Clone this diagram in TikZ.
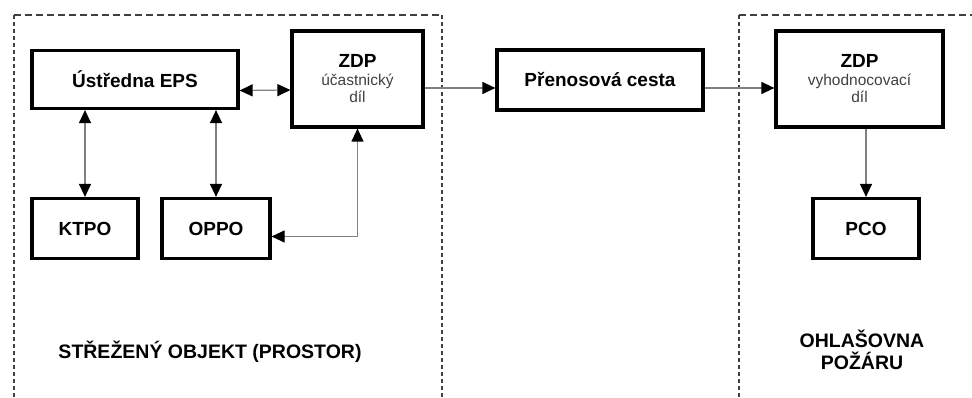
\documentclass[tikz,border=0pt]{standalone}
\usepackage{fontspec}
\setmainfont{Liberation Sans}
\usetikzlibrary{arrows.meta}
\newcommand\epssub{\mdseries\fontsize{15.5}{18}\selectfont\color{black!75}}

\begin{document}
\begin{tikzpicture}[x=1pt, y=-1pt,
  epsbox/.style = {draw=black, line width=3.2pt, inner sep=0pt, align=center,
    font=\bfseries\fontsize{19}{21}\selectfont},
  epsline/.style = {draw=black!50, line width=1.2pt},
  epstip/.tip = {Triangle[length=13pt, width=12pt, black]},
  epsarr/.style = {epsline, -epstip},
  epsdarr/.style = {epsline, epstip-epstip},
  epszone/.style = {draw=black!75, line width=2pt, dash pattern=on 7pt off 4pt},
  epszonev/.style = {draw=black!75, line width=2pt, dash pattern=on 4pt off 3pt},
  epslbl/.style = {font=\bfseries\fontsize{19.5}{22}\selectfont, align=center}
]
  \useasboundingbox (0,0) rectangle (972,398);
  % hranice prostoru
  \draw[epszone] (14,15) -- (442,15);
  \draw[epszonev] (14,15) -- (14,398);
  \draw[epszonev] (442,15) -- (442,398);
  \draw[epszone] (739,15) -- (972,15);
  \draw[epszonev] (739,15) -- (739,398);
  % bloky
  \node[epsbox, minimum width=206pt, minimum height=58pt] (ustredna) at (135,79.5) {Ústředna EPS};
  \node[epsbox, minimum width=131pt, minimum height=96pt] (zdpu) at (357.5,79)
    {ZDP\\[-3pt]{\epssub účastnický}\\[-4pt]{\epssub díl}};
  \node[epsbox, minimum width=206pt, minimum height=60pt] (prenos) at (600,80) {Přenosová cesta};
  \node[epsbox, minimum width=167pt, minimum height=96pt] (zdpv) at (859.5,79)
    {ZDP\\[-3pt]{\epssub vyhodnocovací}\\[-4pt]{\epssub díl}};
  \node[epsbox, minimum width=106pt, minimum height=60pt] (ktpo) at (85,228.5) {KTPO};
  \node[epsbox, minimum width=108pt, minimum height=60pt] (oppo) at (216,228.5) {OPPO};
  \node[epsbox, minimum width=106pt, minimum height=60pt] (pco) at (866,228.5) {PCO};
  % spojeni
  \draw[epsdarr] ([yshift=-11pt]ustredna.east) -- ([yshift=-11pt]zdpu.west);
  \draw[epsdarr] (ustredna.south -| ktpo.north) -- (ktpo.north);
  \draw[epsdarr] (ustredna.south -| oppo.north) -- (oppo.north);
  \draw[epsdarr] (zdpu.south) |- ([yshift=-8pt]oppo.east);
  \draw[epsarr] ([yshift=-9pt]zdpu.east) -- ([yshift=-9pt]zdpu.east -| prenos.west);
  \draw[epsarr] ([yshift=-8pt]prenos.east) -- ([yshift=-8pt]prenos.east -| zdpv.west);
  \draw[epsarr] (zdpv.south -| pco.north) -- (pco.north);
  % popisy
  \node[epslbl] (objekt) at (210,352) {STŘEŽENÝ OBJEKT (PROSTOR)};
  \node[epslbl] (ohlas) at (862,350) {OHLAŠOVNA\\POŽÁRU};
\end{tikzpicture}
\end{document}
